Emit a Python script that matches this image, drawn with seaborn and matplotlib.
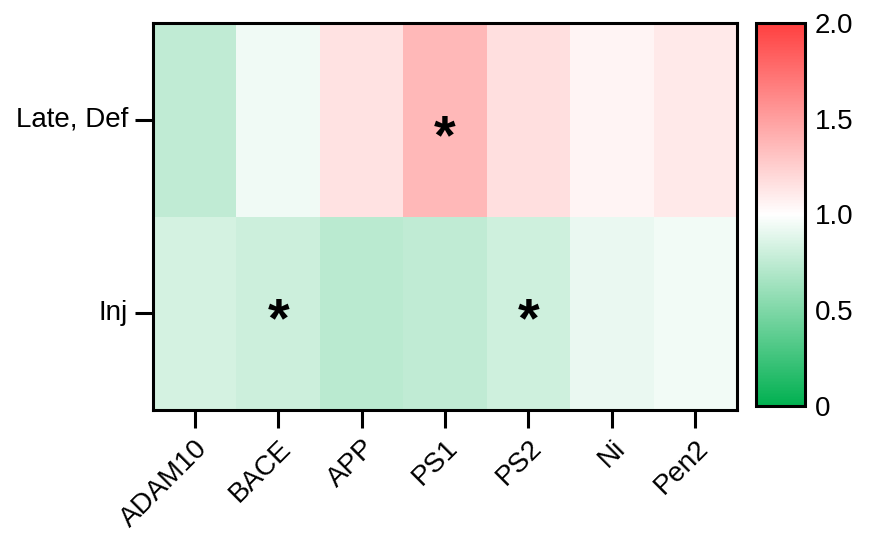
import numpy as np
import pandas as pd
import matplotlib
matplotlib.use("Agg")
import matplotlib.pyplot as plt
import seaborn as sns
from matplotlib.colors import LinearSegmentedColormap

# data
genes = ["ADAM10", "BACE", "APP", "PS1", "PS2", "Ni", "Pen2"]
groups = ["Late, Def", "Inj"]
late_def = [0.75, 0.94, 1.15, 1.37, 1.17, 1.06, 1.11]
inj = [0.83, 0.80, 0.73, 0.75, 0.81, 0.92, 0.95]
stars_late = ["", "", "", "*", "", "", ""]
stars_inj = ["", "*", "", "", "*", "", ""]
cbar_ticks = [0, 0.5, 1.0, 1.5, 2.0]
cbar_labels = ["0", "0.5", "1.0", "1.5", "2.0"]

df = pd.DataFrame([late_def, inj], index=groups, columns=genes)
annot = np.array([stars_late, stars_inj])

sns.set_style("white")
plt.rcParams["font.family"] = ["Liberation Sans", "DejaVu Sans"]

cmap = LinearSegmentedColormap.from_list("gwr", ["#00b050", "#ffffff", "#ff4040"])

fig = plt.figure(figsize=(8.7, 5.37), dpi=100)
ax = fig.add_axes([153/870, 1-410/537, (737-153)/870, (410-23)/537])
cax = fig.add_axes([756/870, 1-406/537, 49/870, (406-23)/537])

sns.heatmap(df, ax=ax, cbar_ax=cax, cmap=cmap, vmin=0, vmax=2,
            annot=annot, fmt="", annot_kws={"fontsize": 40, "fontweight": "bold", "color": "black", "va": "center"})

# asterisk glyph sits high, nudge it down a bit
for t in ax.texts:
    x, y = t.get_position()
    t.set_position((x, y + (0.1 if y < 1 else 0.045)))

for s in ax.spines.values():
    s.set_visible(True)
    s.set_linewidth(2.2)
    s.set_color("black")

ax.tick_params(axis="both", direction="out", length=13, width=2.2, color="black",
               labelsize=20, labelcolor="black", bottom=True, left=True, pad=5)
ax.set_xticklabels(genes, rotation=45, ha="right", rotation_mode="anchor")
ax.set_yticklabels(groups, rotation=0)
ax.set_xlabel("")
ax.set_ylabel("")

cb = ax.collections[0].colorbar
cb.set_ticks(cbar_ticks)
cb.set_ticklabels(cbar_labels)
cb.outline.set_visible(True)
cb.outline.set_linewidth(2.2)
cb.outline.set_edgecolor("black")
cax.tick_params(direction="in", left=True, right=True, length=6, width=2,
                labelsize=20, labelcolor="black", pad=7)

fig.savefig("out.png", dpi=100)
